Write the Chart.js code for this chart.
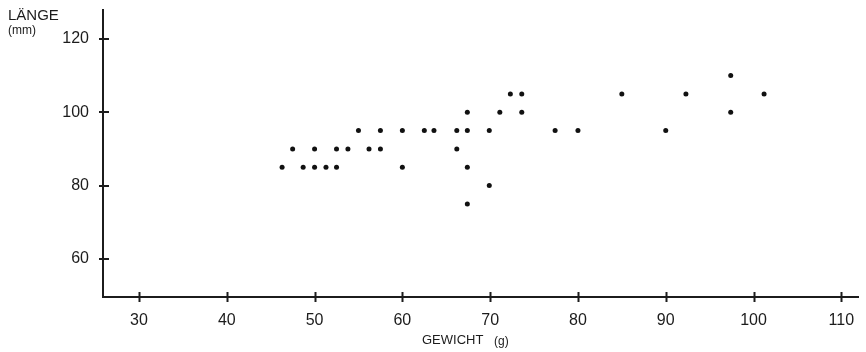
<!DOCTYPE html>
<html>
<head>
<meta charset="utf-8">
<script src="https://cdn.jsdelivr.net/npm/chart.js@4/dist/chart.umd.min.js"></script>
<style>
  html, body { margin: 0; padding: 0; background: #fff; }
  #wrap { width: 866px; height: 352px; position: relative; }
</style>
</head>
<body>
<div id="wrap"><canvas id="chart"></canvas></div>
<script>
// ─── Data ─────────────────────────────────────────────────────────────────────

// weight in g
const weights = [
  46.3, 47.5, 48.7, 50, 50, 51.3, 52.5, 52.5, 53.8, 55,
  56.2, 57.5, 57.5, 60, 60, 62.5, 63.6, 66.2, 66.2, 67.4,
  67.4, 67.4, 67.4, 69.9, 69.9, 71.1, 72.3, 73.6, 73.6, 77.4,
  80, 85, 90, 92.3, 97.4, 97.4, 101.2,
];
// length in mm
const lengths = [
  85, 90, 85, 85, 90, 85, 85, 90, 90, 95,
  90, 90, 95, 85, 95, 95, 95, 90, 95, 75,
  85, 95, 100, 80, 95, 100, 105, 100, 105, 95,
  95, 105, 95, 105, 100, 110, 105,
];

const xTicks = [30, 40, 50, 60, 70, 80, 90, 100, 110];
const yTicks = [60, 80, 100, 120];

const INK = "#1c1c1c";
const FONT = "'Liberation Sans', Arial, sans-serif";

// ─── Plugins ──────────────────────────────────────────────────────────────────

// small tick marks that cross the axis lines
const crossTicks = {
  id: "crossTicks",
  afterDraw(chart) {
    const { ctx, chartArea, scales } = chart;
    ctx.save();
    ctx.strokeStyle = INK;
    ctx.lineWidth = 2;
    ctx.beginPath();
    xTicks.forEach((v) => {
      const px = Math.round(scales.x.getPixelForValue(v)) + 0.5;
      ctx.moveTo(px, chartArea.bottom - 5);
      ctx.lineTo(px, chartArea.bottom + 5);
    });
    yTicks.forEach((v) => {
      const py = Math.round(scales.y.getPixelForValue(v));
      ctx.moveTo(chartArea.left - 4, py);
      ctx.lineTo(chartArea.left + 6, py);
    });
    ctx.stroke();
    ctx.restore();
  },
};

// axis captions with units in a smaller size
const captions = {
  id: "captions",
  afterDraw(chart) {
    const { ctx } = chart;
    ctx.save();
    ctx.fillStyle = INK;
    ctx.textBaseline = "top";
    ctx.textAlign = "left";
    ctx.font = "15px " + FONT;
    ctx.fillText("LÄNGE", 8, 8);
    ctx.font = "12px " + FONT;
    ctx.fillText("(mm)", 8, 25);
    ctx.font = "13px " + FONT;
    ctx.fillText("GEWICHT", 422, 334);
    ctx.font = "12px " + FONT;
    ctx.fillText("(g)", 494, 336);
    ctx.restore();
  },
};

// ─── Chart ────────────────────────────────────────────────────────────────────

const points = weights.map((w, i) => ({ x: w, y: lengths[i] }));

new Chart(document.getElementById("chart"), {
  type: "scatter",
  data: {
    datasets: [
      {
        data: points,
        pointRadius: 2.5,
        pointHoverRadius: 2.5,
        pointBackgroundColor: "#111",
        pointBorderWidth: 0,
      },
    ],
  },
  options: {
    responsive: true,
    maintainAspectRatio: false,
    animation: false,
    events: [],
    layout: { padding: { left: 0, right: 8, top: 10, bottom: 0 } },
    plugins: { legend: { display: false }, tooltip: { enabled: false } },
    scales: {
      x: {
        type: "linear",
        min: 25.9,
        max: 111.9,
        afterBuildTicks: (s) => { s.ticks = xTicks.map((v) => ({ value: v })); },
        afterFit: (s) => {
          s.height = 55;
          s.paddingLeft = 0;
          s.paddingRight = 0;
        },
        grid: { display: false, drawTicks: false, tickLength: 0 },
        border: { display: true, color: INK, width: 2 },
        ticks: { color: INK, font: { family: FONT, size: 16 }, padding: 14, maxRotation: 0 },
      },
      y: {
        type: "linear",
        min: 49.6,
        max: 127.9,
        afterBuildTicks: (s) => { s.ticks = yTicks.map((v) => ({ value: v })); },
        afterFit: (s) => {
          s.width = 103;
          s.paddingTop = 0;
          s.paddingBottom = 0;
        },
        grid: { display: false, drawTicks: false, tickLength: 0 },
        border: { display: true, color: INK, width: 2 },
        ticks: { color: INK, font: { family: FONT, size: 16 }, padding: 14 },
      },
    },
  },
  plugins: [crossTicks, captions],
});
</script>
</body>
</html>
